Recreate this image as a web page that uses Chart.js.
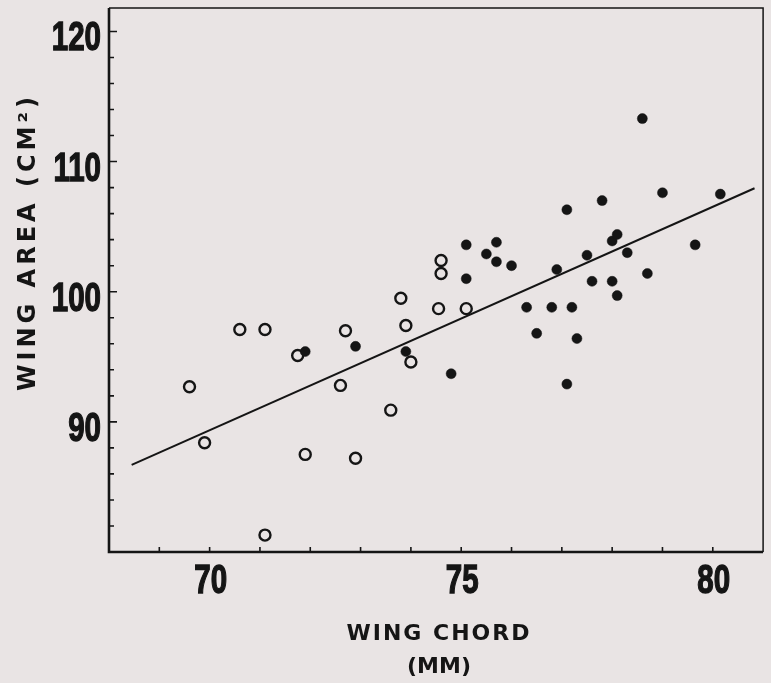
<!DOCTYPE html>
<html>
<head>
<meta charset="utf-8">
<script src="https://cdn.jsdelivr.net/npm/chart.js@4/dist/chart.umd.min.js"></script>
<style>
  html, body { margin: 0; padding: 0; background: #e9e4e4; }
  #wrap { width: 771px; height: 683px; position: relative; }
</style>
</head>
<body>
<div id="wrap"><canvas id="grafico"></canvas></div>
<script>
// open circles
const abiertosX = [69.6, 69.9, 70.6, 71.1, 71.1, 71.75, 71.9, 72.7, 72.6, 72.9, 73.8, 73.9, 74.0, 73.6, 74.55, 74.6, 74.6, 75.1];
const abiertosY = [92.7, 88.4, 97.1, 97.1, 81.3, 95.1, 87.5, 97.0, 92.8, 87.2, 99.5, 97.4, 94.6, 90.9, 98.7, 102.4, 101.4, 98.7];

// filled dots
const llenosX = [71.9, 72.9, 73.9, 74.8, 75.1, 75.1, 75.5, 75.7, 75.7, 76.0, 76.3, 76.5, 76.8, 76.9, 77.1, 77.2,
                 77.3, 77.1, 77.5, 77.6, 77.8, 78.0, 78.1, 78.0, 78.1, 78.3, 78.7, 78.6, 79.0, 79.65, 80.15];
const llenosY = [95.4, 95.8, 95.4, 93.7, 103.6, 101.0, 102.9, 103.8, 102.3, 102.0, 98.8, 96.8, 98.8, 101.7, 106.3, 98.8,
                 96.4, 92.9, 102.8, 100.8, 107.0, 103.9, 104.4, 100.8, 99.7, 103.0, 101.4, 113.3, 107.6, 103.6, 107.5];

// regression line end points
const rectaX = [68.45, 80.83];
const rectaY = [86.7, 107.95];

// axes
const xTickLabels = [70, 75, 80];
const xMinorTicks = [69, 70, 71, 72, 73, 74, 75, 76, 77, 78, 79, 80];
const yTickLabels = [90, 100, 110, 120];
const yMinorTicks = [82, 84, 86, 88, 90, 92, 94, 96, 98, 100, 102, 104, 106, 108, 110, 112, 114, 116, 118, 120];

const tinta = '#151515';
const pares = (xs, ys) => xs.map((x, i) => ({ x: x, y: ys[i] }));

// condensed tick labels (the printed figure uses a narrow heavy face)
function etiqueta(ctx, texto, x, y, align) {
  ctx.save();
  ctx.translate(x, y);
  ctx.scale(0.72, 1);
  ctx.textAlign = align;
  ctx.textBaseline = 'alphabetic';
  ctx.lineWidth = 1.4;
  ctx.strokeStyle = tinta;
  ctx.fillText(texto, 0, 0);
  ctx.strokeText(texto, 0, 0);
  ctx.restore();
}

// ticks inward, frame, labels and spaced axis titles
const marco = {
  id: 'marco',
  afterDraw(chart) {
    const { ctx, chartArea: a, scales: { x, y } } = chart;
    ctx.save();
    ctx.strokeStyle = tinta;
    ctx.lineWidth = 1.6;
    ctx.beginPath();
    xMinorTicks.forEach(v => {
      const px = x.getPixelForValue(v);
      ctx.moveTo(px, a.bottom);
      ctx.lineTo(px, a.bottom - 5);
    });
    yMinorTicks.forEach(v => {
      const py = y.getPixelForValue(v);
      const largo = yTickLabels.includes(v) ? 8 : 5;
      ctx.moveTo(a.left, py);
      ctx.lineTo(a.left + largo, py);
    });
    ctx.stroke();

    ctx.lineWidth = 1.5;
    ctx.beginPath();
    ctx.moveTo(a.left, a.top);
    ctx.lineTo(a.right, a.top);
    ctx.lineTo(a.right, a.bottom);
    ctx.stroke();
    ctx.lineWidth = 2.6;
    ctx.beginPath();
    ctx.moveTo(a.left, a.top);
    ctx.lineTo(a.left, a.bottom);
    ctx.lineTo(a.right, a.bottom);
    ctx.stroke();

    ctx.fillStyle = tinta;
    ctx.font = 'bold 41px "Liberation Sans"';
    yTickLabels.forEach(v => etiqueta(ctx, String(v), a.left - 8, y.getPixelForValue(v) + 19, 'right'));
    xTickLabels.forEach(v => etiqueta(ctx, String(v), x.getPixelForValue(v) + 1, a.bottom + 41, 'center'));

    ctx.textAlign = 'center';
    ctx.textBaseline = 'middle';
    ctx.font = 'bold 22px "DejaVu Sans"';
    ctx.letterSpacing = '2px';
    ctx.fillText('WING CHORD', 439, 634);
    ctx.font = 'bold 22px "DejaVu Sans"';
    ctx.letterSpacing = '0px';
    ctx.fillText('(MM)', 439, 667);

    ctx.translate(29, 242);
    ctx.rotate(-Math.PI / 2);
    ctx.font = 'bold 24px "DejaVu Sans"';
    ctx.letterSpacing = '4px';
    ctx.fillText('WING AREA (CM²)', 0, 0);
    ctx.restore();
  }
};

new Chart(document.getElementById('grafico'), {
  type: 'scatter',
  data: {
    datasets: [
      {
        data: pares(rectaX, rectaY),
        showLine: true,
        borderColor: tinta,
        borderWidth: 2,
        pointRadius: 0,
        order: 3
      },
      {
        data: pares(abiertosX, abiertosY),
        pointRadius: 5.5,
        pointBorderWidth: 2.4,
        pointBorderColor: tinta,
        pointBackgroundColor: 'rgba(0,0,0,0)',
        order: 2
      },
      {
        data: pares(llenosX, llenosY),
        pointRadius: 5,
        pointBorderWidth: 0.5,
        pointBorderColor: tinta,
        pointBackgroundColor: tinta,
        order: 1
      }
    ]
  },
  options: {
    responsive: true,
    maintainAspectRatio: false,
    animation: false,
    layout: { padding: { top: 8, right: 3, left: 0, bottom: 0 } },
    plugins: {
      legend: { display: false },
      tooltip: { enabled: false }
    },
    scales: {
      x: {
        type: 'linear',
        min: 68,
        max: 81,
        grid: { display: false },
        border: { display: false },
        afterBuildTicks: s => { s.ticks = xTickLabels.map(v => ({ value: v })); },
        afterFit: s => { s.height = 131; },
        ticks: { display: false }
      },
      y: {
        type: 'linear',
        min: 80,
        max: 121.8,
        grid: { display: false },
        border: { display: false },
        afterBuildTicks: s => { s.ticks = yTickLabels.map(v => ({ value: v })); },
        afterFit: s => { s.width = 109; },
        ticks: { display: false }
      }
    }
  },
  plugins: [marco]
});
</script>
</body>
</html>
